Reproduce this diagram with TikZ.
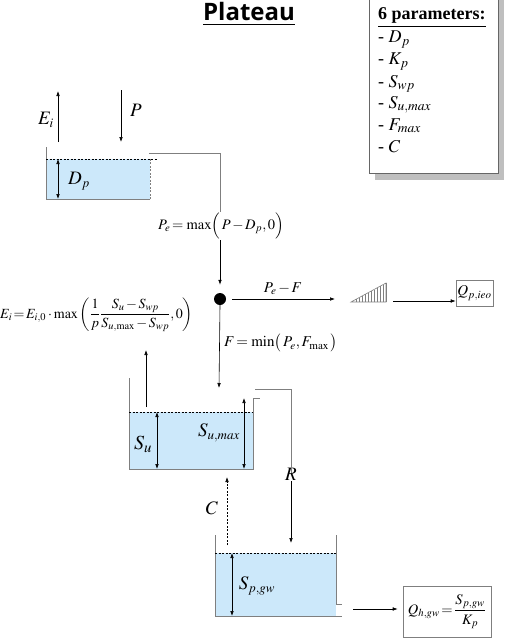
\documentclass[tikz,border=0pt]{standalone}
\usepackage{amsmath}
\usepackage{mathptmx}
\usepackage{fontspec}
\setmainfont{Liberation Serif}
\newfontfamily\titlefont{Open Sans}
\usetikzlibrary{arrows.meta}
\DeclareMathSizes{18}{18}{13.5}{10}
\DeclareMathSizes{19}{19}{13}{10}
\definecolor{water}{HTML}{CCE8FA}
\definecolor{wallc}{HTML}{7F7F7F}
\definecolor{shadowc}{HTML}{BFBFBF}
\newcommand{\teq}{\,{=}\,}
\newcommand{\tmin}{\,{-}\,}
\begin{document}
\begin{tikzpicture}[x=1pt,y=-1pt,
  wall/.style={draw=wallc, line width=0.9pt},
  arr/.style={-{Latex[length=5pt,width=3.6pt]}, line width=0.6pt},
  darr/.style={{Latex[length=5pt,width=3.6pt]}-{Latex[length=5pt,width=3.6pt]}, line width=0.6pt},
  lab/.style={font=\fontsize{19}{21}\selectfont, inner sep=1pt},
  formula/.style={font=\fontsize{15}{17}\selectfont, inner sep=1pt},
  param/.style={font=\fontsize{18}{20}\selectfont, inner sep=0pt, anchor=base west},
  levelline/.style={dashed, dash pattern=on 2pt off 1.5pt, line width=0.5pt},
  hatch/.style={line width=0.5pt, draw=wallc}]
\useasboundingbox (0,0) rectangle (507,642);

% title
\node[font=\titlefont\bfseries\fontsize{24}{28}\selectfont, inner sep=0pt] (title) at (249,14) {\underline{Plateau}};

% parameter box
\fill[shadowc] (375,-5) rectangle (504,180);
\draw[fill=white, draw=wallc!80!black, line width=0.9pt] (369,-5) rectangle (498,173);
\node[param, font=\fontsize{18}{20}\selectfont\bfseries] (p0) at (378,20) {\underline{6 parameters:}};
\node[param] (p1) at (378,43) {- $D_p$};
\node[param] (p2) at (378,65) {- $K_p$};
\node[param] (p3) at (378,87) {- $S_{wp}$};
\node[param] (p4) at (378,108) {- $S_{u,max}$};
\node[param] (p5) at (378,130) {- $F_{max}$};
\node[param] (p6) at (378,152) {- $C$};

% Dp reservoir
\fill[water] (46,159) rectangle (150,199);
\draw[wall] (46,147) -- (46,199) -- (150,199);
\draw[wall, dashed, dash pattern=on 2pt off 1.5pt] (150,199) -- (150,159);
\draw[levelline] (46,159) -- (157,159);
\coordinate (dptop) at (58,159);
\coordinate (dpbot) at (58,199);
\draw[darr] (dptop) -- (dpbot);
\node[lab] (Dp) at (79,181) {$D_p$};

% Ei and P on top
\coordinate (eistart) at (58,142);
\coordinate (eiend) at (58,91);
\draw[arr] (eistart) -- (eiend);
\node[lab] (Eilab) at (46,120) {$E_i$};
\coordinate (pstart) at (121,90);
\coordinate (pend) at (121,142);
\draw[arr] (pstart) -- (pend);
\node[lab] (Plab) at (136,110) {$P$};

% overflow to Pe
\node[formula, font=\fontsize{14.5}{16}\selectfont] (pe) at (221,226) {$P_e\teq\max\Bigl(\,P\tmin D_p,0\Bigr)$};
\coordinate (ovstart) at (149,153);
\coordinate (ovbend) at (220,153);
\draw[wall] (ovstart) -- (ovbend) -- (ovbend |- pe.north);

% junction dot
\node[circle, fill=black, minimum size=12pt, inner sep=0pt] (dot) at (220,299) {};
\draw[arr, shorten >=8pt] (dot.north |- pe.south) -- (dot.north);

% Pe - F to ramp
\coordinate (pfend) at (335,299);
\draw[arr, shorten <=6pt] (dot.east) -- (pfend);
\node[formula] (pflab) at (283,289) {$P_e\tmin F$};

% ramp
\draw[draw=wallc, line width=0.6pt] (351,302) -- (386,302) -- (386,283) -- cycle;
\foreach \x in {356,359,...,386}{
  \draw[hatch] (\x,302) -- (\x,{302-(\x-351)*19/35});
}
\node[draw=wallc, line width=0.6pt, minimum width=37pt, minimum height=26pt, inner sep=0pt, font=\fontsize{15}{17}\selectfont] (qp) at (474.5,293) {$Q_{p,ieo}$};
\coordinate (rampout) at (393,301);
\draw[arr] (rampout) -- (qp.west |- rampout);

% infiltration F
\coordinate (fend) at (219,388);
\draw[arr] (dot.south) -- (fend);
\node[formula, anchor=west] (flab) at (223,343) {$F\teq\min\bigl(\,P_e,F_{\max}\,\bigr)$};

% Ei formula
\node[formula, anchor=west, inner sep=0pt, font=\fontsize{14}{16}\selectfont] (eiform) at (0,315) {$E_i\teq E_{i,0}\cdot\max\left(\dfrac{1}{p}\dfrac{S_u\tmin S_{wp}}{S_{u,\max}\tmin S_{wp}},0\right)$};
\coordinate (eiup) at (146,407);
\coordinate (eitip) at (146,350);
\draw[arr] (eiup) -- (eitip);

% Su reservoir
\fill[water] (129,412) rectangle (253,469);
\draw[wall] (129,378) -- (129,469) -- (253,469) -- (253,398) -- (260,398);
\draw[levelline] (129,412) -- (253,412);
\coordinate (sutop) at (157,412);
\coordinate (subot) at (157,469);
\draw[darr] (sutop) -- (subot);
\node[lab, font=\fontsize{20}{22}\selectfont] (Su) at (143,444) {$S_u$};
\coordinate (smtop) at (244,398);
\coordinate (smbot) at (244,469);
\draw[darr] (smtop) -- (smbot);
\node[lab] (Sumax) at (219,433) {$S_{u,max}$};

% percolation R
\node[lab] (R) at (291,474) {$R$};
\coordinate (rstart) at (255,389);
\draw[wall] (rstart) -| ([yshift=-6pt]R.north);
\coordinate (rend) at (291,543);
\draw[arr] (R.south) -- (rend);

% capillary rise C
\coordinate (cstart) at (227,545);
\coordinate (cend) at (227,477);
\draw[arr, dashed, dash pattern=on 2pt off 1.5pt] (cstart) -- (cend);
\node[lab] (C) at (212,508) {$C$};

% groundwater reservoir
\fill[water] (215,553) rectangle (336,616);
\draw[wall] (215,535) -- (215,616) -- (342,616);
\draw[wall] (336,535) -- (336,604) -- (342,604);
\draw[levelline] (215,553) -- (336,553);
\coordinate (gwtop) at (232,553);
\coordinate (gwbot) at (232,616);
\draw[darr] (gwtop) -- (gwbot);
\node[lab] (Spgw) at (257,586) {$S_{p,gw}$};

% groundwater outflow
\node[draw=wallc, line width=0.6pt, minimum width=88pt, minimum height=51pt, inner sep=1pt, font=\fontsize{14.5}{16}\selectfont] (qh) at (447,611.5) {$Q_{h,gw}\teq\dfrac{S_{p,gw}}{K_p}$};
\coordinate (gwout) at (353,609);
\draw[arr, shorten >=5pt] (gwout) -- (qh.west |- gwout);
\end{tikzpicture}
\end{document}
